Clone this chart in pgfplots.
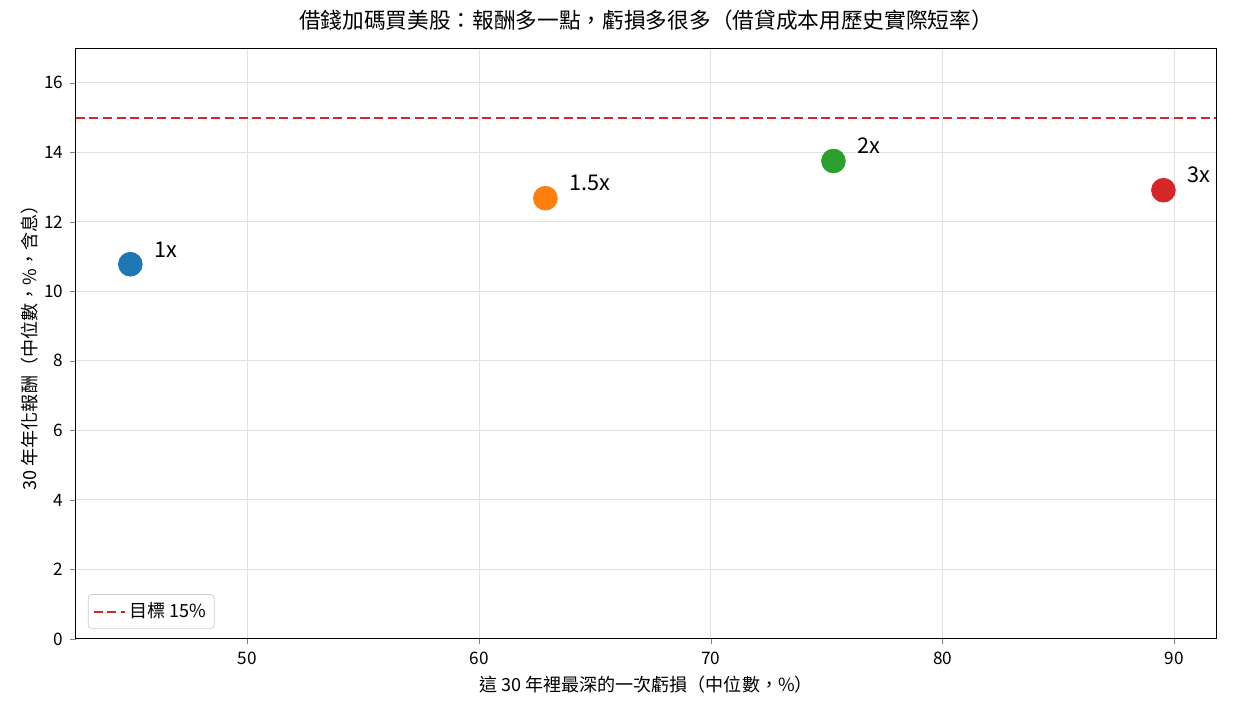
\documentclass[border=0pt]{standalone}
\usepackage{pgfplots}
\pgfplotsset{compat=1.18}
\usepackage{fontspec}
\setmainfont{Noto Sans CJK TC}
\definecolor{tabblue}{HTML}{1F77B4}
\definecolor{taborange}{HTML}{FF7F0E}
\definecolor{tabgreen}{HTML}{2CA02C}
\definecolor{tabred}{HTML}{D62728}
\begin{document}
\begin{tikzpicture}
\begin{axis}[
  scale only axis,
  width=631pt, height=327pt,
  xmin=42.6, xmax=91.8, ymin=0, ymax=17,
  xtick={50,60,70,80,90}, ytick={0,2,4,6,8,10,12,14,16},
  tick align=outside, tick pos=left,
  major tick length=3pt,
  grid=major,
  grid style={black!12, line width=0.5pt},
  axis line style={line width=0.5pt},
  /pgf/number format/assume math mode=true,
  ticklabel style={font=\fontsize{9.5}{11}\selectfont},
  xticklabel style={yshift=-0.5pt},
  yticklabel style={xshift=-0.5pt},
  title={借錢加碼買美股：報酬多一點，虧損多很多（借貸成本用歷史實際短率）},
  title style={font=\fontsize{12}{14}\selectfont, at={(axis description cs:0.5,1)}, anchor=center, yshift=9.4pt},
  xlabel={這 30 年裡最深的一次虧損（中位數，\%）},
  ylabel={30 年年化報酬（中位數，\%，含息）},
  label style={font=\fontsize{10}{12}\selectfont},
  xlabel style={at={(axis description cs:0.5,0)}, anchor=center, yshift=-25.5pt},
  ylabel style={at={(axis description cs:0,0.5)}, anchor=center, rotate=0, yshift=25.5pt},
  legend style={font=\fontsize{10}{12}\selectfont, draw=black!20, rounded corners=2pt, inner sep=2.5pt, at={(0,0)}, anchor=south west, xshift=6.6pt, yshift=5.5pt},
  legend cell align=left,
  clip=false,
]
\addplot[tabred, dash pattern=on 5pt off 2.5pt, line width=1.1pt] coordinates {(42.6,15) (91.8,15)};
\addlegendentry{目標 15\%}
\addplot[only marks, mark=*, mark size=6.6pt, color=tabblue, forget plot] coordinates {(44.95,10.78)};
\addplot[only marks, mark=*, mark size=6.6pt, color=taborange, forget plot] coordinates {(62.86,12.68)};
\addplot[only marks, mark=*, mark size=6.6pt, color=tabgreen, forget plot] coordinates {(75.29,13.75)};
\addplot[only marks, mark=*, mark size=6.6pt, color=tabred, forget plot] coordinates {(89.53,12.91)};
\node[anchor=base west, font=\fontsize{12}{14}\selectfont, xshift=10pt, yshift=4pt] at (axis cs:44.95,10.78) {1x};
\node[anchor=base west, font=\fontsize{12}{14}\selectfont, xshift=10pt, yshift=4pt] at (axis cs:62.86,12.68) {1.5x};
\node[anchor=base west, font=\fontsize{12}{14}\selectfont, xshift=10pt, yshift=4pt] at (axis cs:75.29,13.75) {2x};
\node[anchor=base west, font=\fontsize{12}{14}\selectfont, xshift=10pt, yshift=4pt] at (axis cs:89.53,12.91) {3x};
\end{axis}
\path (current axis.south west) ++(-42pt,-42.6pt);
\path (current axis.north east) ++(10.5pt,26.6pt);
\end{tikzpicture}
\end{document}
